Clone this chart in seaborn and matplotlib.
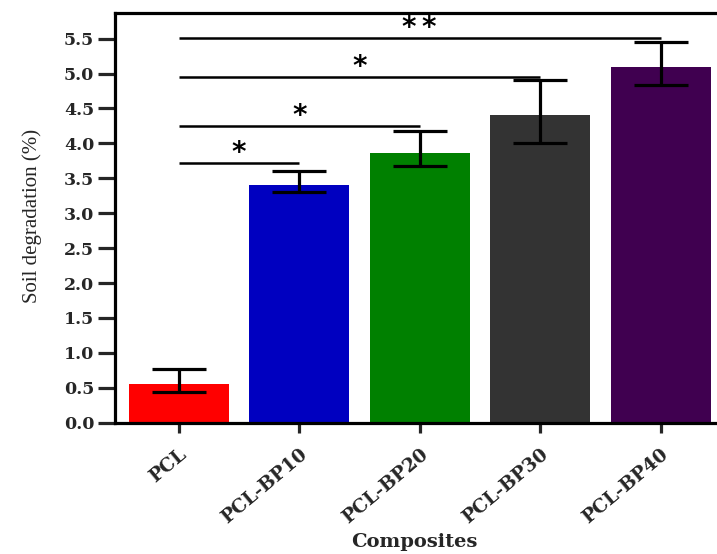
import numpy as np
import pandas as pd
import matplotlib.pyplot as plt
import seaborn as sns

# datos
composites = ["PCL", "PCL-BP10", "PCL-BP20", "PCL-BP30", "PCL-BP40"]
means = [0.555, 3.40, 3.86, 4.40, 5.09]
err_upper = [0.77, 3.60, 4.17, 4.90, 5.45]
err_lower = [0.44, 3.30, 3.67, 4.00, 4.84]
colors = ["#ff0000", "#0000c0", "#008000", "#333333", "#400050"]

# comparaciones contra PCL: (indice, altura de linea, etiqueta)
sig_targets = [1, 2, 3, 4]
sig_heights = [3.72, 4.25, 4.95, 5.51]
sig_labels = ["*", "*", "*", "*\u2009*"]

df = pd.DataFrame({"comp": composites, "deg": means})

sns.set_style("white")
plt.rcParams["font.family"] = ["DejaVu Serif"]

fig = plt.figure(figsize=(7.17, 5.54), dpi=100)
ax = fig.add_axes([0.1604, 0.237, 0.8396, 0.740])

sns.barplot(data=df, x="comp", y="deg", hue="comp", palette=colors,
            legend=False, width=0.83, errorbar=None, ax=ax,
            edgecolor="none", saturation=1)

x = np.arange(len(composites))
m = np.array(means)
yerr = [m - np.array(err_lower), np.array(err_upper) - m]
ax.errorbar(x, m, yerr=yerr, fmt="none", ecolor="black", elinewidth=2.3,
            capsize=19.5, capthick=2.3, zorder=5)

# lineas de significancia
for j, h, lab in zip(sig_targets, sig_heights, sig_labels):
    ax.plot([0, j], [h, h], color="black", lw=1.8, solid_capstyle="butt",
            zorder=5)
    ax.text(j / 2, h + 0.03, lab, ha="center", va="baseline",
            fontsize=20, fontweight="bold", family=["DejaVu Sans"],
            color="black")

ax.set_xlim(-0.53, 4.468)
ax.set_ylim(0, 5.87)
ax.set_yticks(np.arange(0, 5.51, 0.5))
ax.set_yticklabels([f"{v:.1f}" for v in np.arange(0, 5.51, 0.5)],
                   fontsize=12.5, fontweight="bold")
ax.set_xticks(x)
ax.set_xticklabels(composites, rotation=40, ha="right",
                   rotation_mode="anchor", fontsize=13.5, fontweight="bold")

ax.tick_params(axis="y", direction="out", length=12, width=2.3, pad=3,
               left=True)
ax.tick_params(axis="x", direction="out", length=7.5, width=2.3, pad=9,
               bottom=True)

for s in ["left", "bottom", "top"]:
    ax.spines[s].set_linewidth(2.3)
    ax.spines[s].set_color("black")
ax.spines["right"].set_visible(False)

ax.set_xlabel("Composites", fontsize=14, fontweight="bold")
ax.xaxis.set_label_coords(0.498, -0.268)
ax.set_ylabel("Soil degradation (%)", fontsize=15, family=["Liberation Serif"])
ax.yaxis.set_label_coords(-0.121, 0.504)

fig.savefig("out.png", dpi=100)
plt.close(fig)
